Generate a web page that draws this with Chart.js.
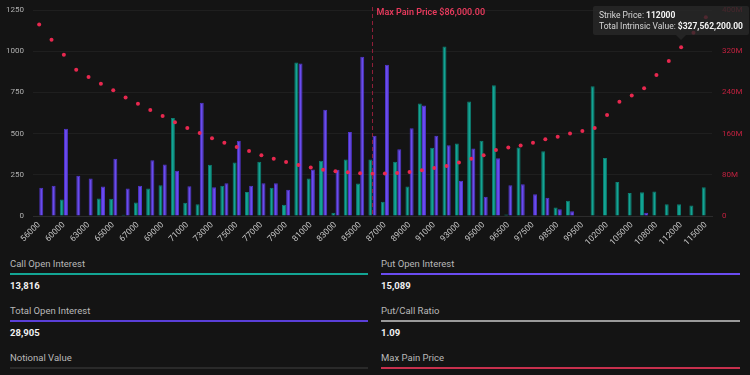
<!DOCTYPE html>
<html>
<head>
<meta charset="utf-8">
<script src="https://cdn.jsdelivr.net/npm/chart.js@4"></script>
<style>
  html, body { margin: 0; padding: 0; background: #141414; }
  body { width: 750px; height: 375px; overflow: hidden; position: relative; font-family: Roboto, sans-serif; }
  #wrap { position: absolute; left: 0; top: 0; width: 750px; height: 250px; }
  #tip {
    position: absolute; background: rgba(40,40,40,0.8); color: #d8d8d8;
    font-size: 8.5px; line-height: 10.5px; padding: 4px 6px 4px 6px; white-space: nowrap;
    border-radius: 2px; pointer-events: none; opacity: 0;
  }
  #tip b { color: #f4f4f4; font-weight: 700; }
  #tip .caret {
    position: absolute; bottom: -5px; width: 0; height: 0;
    border-left: 5px solid transparent; border-right: 5px solid transparent;
    border-top: 5px solid rgba(40,40,40,0.8);
  }
  .stats {
    position: absolute; top: 257px; left: 10px; width: 730px;
    display: grid; grid-template-columns: 358px 359px; column-gap: 13px;
  }
  .cell { height: 47px; }
  .lab { font-size: 9.5px; line-height: 14px; color: #b8b8b8; }
  .bar { height: 2px; margin-top: 2px; }
  .val { font-size: 9.5px; line-height: 14px; margin-top: 4px; color: #f0f0f0; font-weight: 700; }
</style>
</head>
<body>
<div id="wrap"><canvas id="oiChart"></canvas></div>
<div id="tip"></div>

<div class="stats">
  <div class="cell"><div class="lab">Call Open Interest</div><div class="bar" style="background:#13a594"></div><div class="val" id="callTotal"></div></div>
  <div class="cell"><div class="lab">Put Open Interest</div><div class="bar" style="background:#6a4cf0"></div><div class="val" id="putTotal"></div></div>
  <div class="cell"><div class="lab">Total Open Interest</div><div class="bar" style="background:#5a3fd8"></div><div class="val" id="allTotal"></div></div>
  <div class="cell"><div class="lab">Put/Call Ratio</div><div class="bar" style="background:#9a9a9a"></div><div class="val" id="pcRatio"></div></div>
  <div class="cell"><div class="lab">Notional Value</div><div class="bar" style="background:#2a2a2a"></div><div class="val"></div></div>
  <div class="cell"><div class="lab">Max Pain Price</div><div class="bar" style="background:#c8304d"></div><div class="val"></div></div>
</div>

<script>
const strikes = [
  '56000','58000','60000','62000','63000','64000','65000','66000','67000','68000',
  '69000','70000','71000','72000','73000','74000','75000','76000','77000','78000',
  '79000','80000','81000','82000','83000','84000','85000','86000','87000','88000',
  '89000','90000','91000','92000','93000','94000','95000','96000','96500','97000',
  '97500','98000','98500','99000','99500','100000','102000','104000','105000','106000',
  '108000','110000','112000','114000','115000'
];

const callOI = [
  0, 0, 100, 0, 0, 106, 104, 7, 82, 167,
  187, 594, 80, 72, 311, 183, 325, 145, 329, 171,
  68, 932, 228, 335, 19, 343, 197, 343, 86, 329,
  179, 683, 414, 1029, 440, 695, 456, 794, 9, 416,
  5, 393, 52, 92, 0, 787, 352, 206, 140, 144,
  148, 71, 71, 63, 174
];

const putOI = [
  171, 183, 529, 244, 228, 179, 347, 167, 183, 339,
  313, 274, 181, 687, 175, 199, 456, 183, 199, 199,
  159, 925, 282, 645, 280, 509, 966, 487, 918, 405,
  533, 671, 487, 430, 214, 410, 117, 351, 187, 193,
  132, 110, 41, 29, 0, 2, 0, 0, 0, 20,
  0, 0, 0, 0, 0
];

const intrinsicValue = [
  372e6, 342e6, 313e6, 284e6, 270e6, 257e6, 244e6, 230e6, 218e6, 206e6,
  194e6, 182e6, 171e6, 161e6, 151e6, 142e6, 134e6, 126e6, 118e6, 111e6,
  105e6, 99e6, 94e6, 90e6, 87e6, 85e6, 83e6, 82e6, 82.5e6, 83.5e6,
  85.5e6, 89e6, 93e6, 97e6, 104e6, 111e6, 118e6, 128e6, 133e6, 137e6,
  142e6, 149e6, 154e6, 160e6, 165e6, 171e6, 196e6, 222e6, 234e6, 248e6,
  274e6, 301e6, 327562200, 356e6, 386e6
];

const oiTicks = [0, 250, 500, 750, 1000, 1250];
const valueTicks = [0, 80e6, 160e6, 240e6, 320e6, 400e6];
const maxPainStrike = '86000';
const tooltipStrike = '112000';

const money = v => '$' + Number(v).toLocaleString('en-US', {minimumFractionDigits: 2, maximumFractionDigits: 2});

// summary numbers under the chart
const callSum = 13816, putSum = 15089;
document.getElementById('callTotal').textContent = callSum.toLocaleString('en-US');
document.getElementById('putTotal').textContent = putSum.toLocaleString('en-US');
document.getElementById('allTotal').textContent = (callSum + putSum).toLocaleString('en-US');
document.getElementById('pcRatio').textContent = (putSum / callSum).toFixed(2);

Chart.defaults.font.family = 'Roboto';
Chart.defaults.color = '#b8b8b8';

const maxPainLine = {
  id: 'maxPainLine',
  afterDatasetsDraw(chart) {
    const {ctx, chartArea, scales} = chart;
    const x = scales.x.getPixelForValue(strikes.indexOf(maxPainStrike));
    ctx.save();
    ctx.setLineDash([4, 3]);
    ctx.strokeStyle = '#8e1f38';
    ctx.lineWidth = 1;
    ctx.beginPath();
    ctx.moveTo(x, chartArea.top - 3);
    ctx.lineTo(x, chartArea.bottom);
    ctx.stroke();
    ctx.setLineDash([]);
    ctx.fillStyle = '#e63a5c';
    ctx.font = '600 9px Roboto';
    ctx.textBaseline = 'middle';
    ctx.fillText('Max Pain Price ' + money(maxPainStrike), x + 4, chartArea.top + 3);
    ctx.restore();
  }
};

function externalTooltip(context) {
  const {chart, tooltip} = context;
  const el = document.getElementById('tip');
  if (!tooltip.dataPoints || !tooltip.dataPoints.length) { el.style.opacity = 0; return; }
  const dp = tooltip.dataPoints[0];
  el.innerHTML = '<div>Strike Price: <b>' + dp.label + '</b></div>' +
    '<div>Total Intrinsic Value: <b>' + money(dp.raw) + '</b></div><div class="caret"></div>';
  const w = el.offsetWidth, h = el.offsetHeight;
  let left = tooltip.caretX - w / 2;
  left = Math.min(left, chart.width - w - 1);
  const top = tooltip.caretY - h - 12;
  el.style.left = left + 'px';
  el.style.top = top + 'px';
  el.querySelector('.caret').style.left = (tooltip.caretX - left - 5) + 'px';
  el.style.opacity = 1;
}

// fixed axis boxes so the plot area lands where the original one is
const fitY = w => s => { s.width = w; s.paddingTop = 0; s.paddingBottom = 0; };

const chart = new Chart(document.getElementById('oiChart'), {
  type: 'bar',
  data: {
    labels: strikes,
    datasets: [
      {
        type: 'line',
        label: 'Total Intrinsic Value',
        data: intrinsicValue,
        yAxisID: 'y1',
        showLine: false,
        pointRadius: 2,
        pointHoverRadius: 2,
        pointBackgroundColor: '#e8284f',
        pointBorderWidth: 0,
        order: 0
      },
      {
        label: 'Calls',
        data: callOI,
        yAxisID: 'y',
        backgroundColor: '#13a594',
        borderColor: '#0c7f72',
        borderWidth: 1,
        categoryPercentage: 0.68,
        barPercentage: 0.95,
        order: 1
      },
      {
        label: 'Puts',
        data: putOI,
        yAxisID: 'y',
        backgroundColor: '#6a4cf0',
        borderColor: '#5135cc',
        borderWidth: 1,
        categoryPercentage: 0.68,
        barPercentage: 0.95,
        order: 1
      }
    ]
  },
  options: {
    responsive: true,
    maintainAspectRatio: false,
    animation: false,
    layout: { padding: { top: 10, left: 0, right: 0, bottom: 0 } },
    plugins: {
      legend: { display: false },
      tooltip: { enabled: false, animation: false, external: externalTooltip }
    },
    scales: {
      x: {
        afterFit: s => { s.height = 34; },
        grid: { display: false, drawTicks: false },
        border: { color: '#2c2c2c' },
        ticks: {
          autoSkip: false,
          minRotation: 45,
          maxRotation: 45,
          padding: 4,
          color: '#c4c4c4',
          font: { size: 8.5 },
          callback: (v, i) => i % 2 === 0 ? strikes[i] : ''
        }
      },
      y: {
        position: 'left',
        min: 0,
        max: 1250,
        afterFit: fitY(33),
        afterBuildTicks: s => { s.ticks = oiTicks.map(v => ({value: v})); },
        grid: { color: '#1f1f1f', drawTicks: false },
        border: { display: false },
        ticks: { padding: 9, color: '#b0b0b0', font: { size: 8 }, callback: v => String(v) }
      },
      y1: {
        position: 'right',
        min: 0,
        max: 400e6,
        afterFit: fitY(38),
        afterBuildTicks: s => { s.ticks = valueTicks.map(v => ({value: v})); },
        grid: { display: false, drawTicks: false },
        border: { display: false },
        ticks: {
          padding: 10,
          color: '#c0213f',
          font: { size: 8 },
          callback: v => v === 0 ? '0' : (v / 1e6) + 'M'
        }
      }
    }
  },
  plugins: [maxPainLine]
});

const tipIndex = strikes.indexOf(tooltipStrike);
chart.tooltip.setActiveElements([{datasetIndex: 0, index: tipIndex}], {x: 0, y: 0});
chart.update();
</script>
</body>
</html>
